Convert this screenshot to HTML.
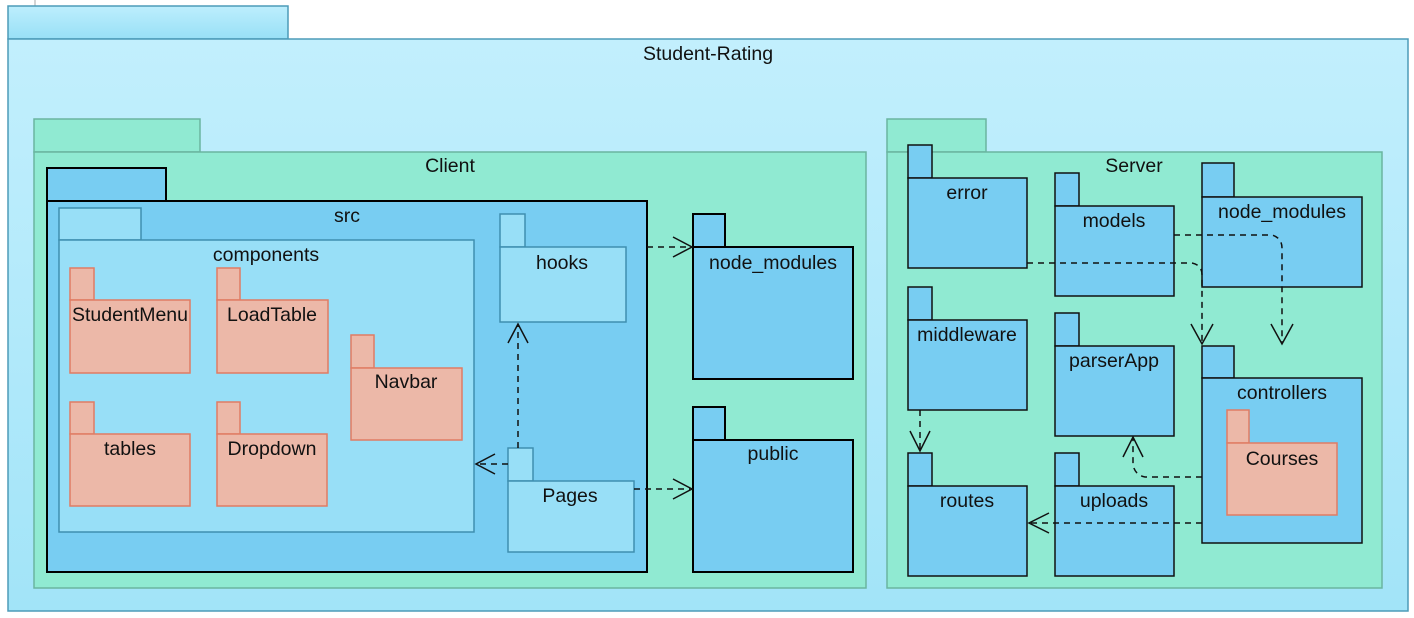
<!DOCTYPE html>
<html><head><meta charset="utf-8"><style>
html,body{margin:0;padding:0;background:#fff;width:1414px;height:618px;overflow:hidden}
text{font-family:"Liberation Sans",Arial,sans-serif;font-size:19.5px;fill:#111;text-anchor:middle}
</style></head><body>
<svg width="1414" height="618" viewBox="0 0 1414 618" xmlns="http://www.w3.org/2000/svg">
<defs>
<linearGradient id="g" x1="0" y1="0" x2="0" y2="1"><stop offset="0" stop-color="#c2effd"/><stop offset="1" stop-color="#a2e4f8"/></linearGradient>
<linearGradient id="gt" x1="0" y1="0" x2="0" y2="1"><stop offset="0" stop-color="#bdeefd"/><stop offset="1" stop-color="#98e0f6"/></linearGradient>
</defs>
<line x1="35" y1="0" x2="35" y2="6" stroke="#aaa"/>
<rect x="8" y="6" width="280" height="33" fill="url(#gt)" stroke="#4d9bb8" stroke-width="1.5"/>
<rect x="8" y="39" width="1400" height="572" fill="url(#g)" stroke="#4d9bb8" stroke-width="1.5"/>
<text x="708" y="60">Student-Rating</text>
<g fill="#90ead2" stroke="#6ab5a0" stroke-width="1.5">
<rect x="34" y="119" width="166" height="33"/><rect x="34" y="152" width="832" height="436"/>
<rect x="887" y="119" width="99" height="33"/><rect x="887" y="152" width="495" height="436"/>
</g>
<text x="450" y="172">Client</text>
<text x="1134" y="172">Server</text>
<g fill="#78cdf2" stroke="#000" stroke-width="2">
<rect x="47" y="168" width="119" height="33"/><rect x="47" y="201" width="600" height="371"/>
</g>
<text x="347" y="222">src</text>
<g fill="#98dff7" stroke="#3f8fb0" stroke-width="1.5">
<rect x="59" y="208" width="82" height="32"/><rect x="59" y="240" width="415" height="292"/>
<rect x="500" y="214" width="25" height="33"/><rect x="500" y="247" width="126" height="75"/>
<rect x="508" y="448" width="25" height="33"/><rect x="508" y="481" width="126" height="71"/>
</g>
<text x="266" y="261">components</text>
<text x="562" y="269">hooks</text>
<text x="570" y="502">Pages</text>
<g fill="#ecb8a8" stroke="#e07c64" stroke-width="1.5">
<rect x="70" y="268" width="24" height="32"/><rect x="70" y="300" width="120" height="73"/>
<rect x="217" y="268" width="23" height="32"/><rect x="217" y="300" width="111" height="73"/>
<rect x="351" y="335" width="23" height="33"/><rect x="351" y="368" width="111" height="72"/>
<rect x="70" y="402" width="24" height="32"/><rect x="70" y="434" width="120" height="72"/>
<rect x="217" y="402" width="23" height="32"/><rect x="217" y="434" width="110" height="72"/>
</g>
<text x="130" y="321">StudentMenu</text>
<text x="272" y="321">LoadTable</text>
<text x="406" y="388">Navbar</text>
<text x="130" y="455">tables</text>
<text x="272" y="455">Dropdown</text>
<g fill="#78cdf2" stroke="#000" stroke-width="2">
<rect x="693" y="214" width="32" height="33"/><rect x="693" y="247" width="160" height="132"/>
<rect x="693" y="407" width="32" height="33"/><rect x="693" y="440" width="160" height="132"/>
</g>
<g fill="#78cdf2" stroke="#111" stroke-width="1.5">
<rect x="908" y="145" width="24" height="33"/><rect x="908" y="178" width="119" height="90"/>
<rect x="1055" y="173" width="24" height="33"/><rect x="1055" y="206" width="119" height="90"/>
<rect x="1202" y="163" width="32" height="34"/><rect x="1202" y="197" width="160" height="90"/>
<rect x="908" y="287" width="24" height="33"/><rect x="908" y="320" width="119" height="90"/>
<rect x="1055" y="313" width="24" height="33"/><rect x="1055" y="346" width="119" height="90"/>
<rect x="1202" y="346" width="32" height="32"/><rect x="1202" y="378" width="160" height="165"/>
<rect x="908" y="453" width="24" height="33"/><rect x="908" y="486" width="119" height="90"/>
<rect x="1055" y="453" width="24" height="33"/><rect x="1055" y="486" width="119" height="90"/>
</g>
<rect x="1227" y="410" width="22" height="33" fill="#ecb8a8" stroke="#e07c64" stroke-width="1.5"/>
<rect x="1227" y="443" width="110" height="72" fill="#ecb8a8" stroke="#e07c64" stroke-width="1.5"/>
<text x="1282" y="465">Courses</text>
<text x="773" y="269">node_modules</text>
<text x="773" y="460">public</text>
<text x="967" y="199">error</text>
<text x="1114" y="227">models</text>
<text x="1282" y="218">node_modules</text>
<text x="967" y="341">middleware</text>
<text x="1114" y="367">parserApp</text>
<text x="1282" y="399">controllers</text>
<text x="967" y="507">routes</text>
<text x="1114" y="507">uploads</text>
<g fill="none" stroke="#111" stroke-width="1.5" stroke-dasharray="6,5">
<path d="M647 247 H690"/>
<path d="M634 489 H690"/>
<path d="M508 464 H477"/>
<path d="M518 448 V325"/>
<path d="M1027 263 H1192 Q1202 265 1202 275 V343"/>
<path d="M1174 235 H1272 Q1282 238 1282 248 V343"/>
<path d="M920 410 V450"/>
<path d="M1202 477 H1145 Q1135 475 1133 465 V438"/>
<path d="M1202 523 H1030"/>
</g>
<g fill="none" stroke="#111" stroke-width="1.5">
<path d="M673 237 L692 247 L673 257"/>
<path d="M673 479 L692 489 L673 499"/>
<path d="M495 454 L476 464 L495 474"/>
<path d="M508 343 L518 324 L528 343"/>
<path d="M1191 324 L1202 344 L1213 324"/>
<path d="M1271 324 L1282 344 L1293 324"/>
<path d="M910 431 L920 451 L930 431"/>
<path d="M1123 457 L1133 437 L1143 457"/>
<path d="M1049 513 L1029 523 L1049 533"/>
</g>
</svg>
</body></html>
